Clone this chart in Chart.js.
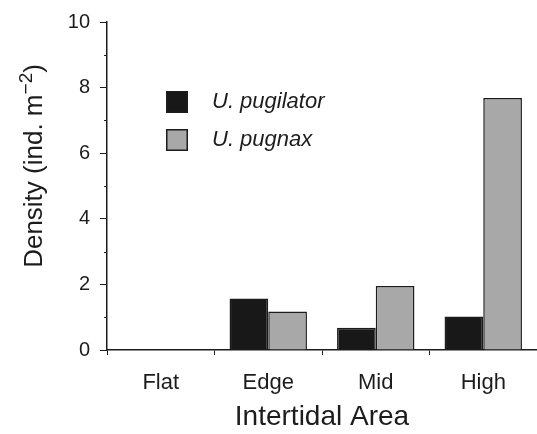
<!DOCTYPE html>
<html>
<head>
<meta charset="utf-8">
<script src="https://cdn.jsdelivr.net/npm/chart.js@4.4.1/dist/chart.umd.min.js"></script>
<style>
  html, body { margin: 0; padding: 0; background: #fff; }
  #wrap { width: 537px; height: 434px; }
</style>
</head>
<body>
<div id="wrap"><canvas id="chart"></canvas></div>
<script>
"use strict";

const categories = ["Flat", "Edge", "Mid", "High"];
const pugilator = [0, 1.57, 0.68, 1.02];
const pugnax = [0, 1.17, 1.95, 7.68];
const yTicks = [0, 2, 4, 6, 8, 10];
const minorTicks = [1, 3, 5, 7, 9];

const INK = "#1c1c1c";
const FONT = "'Liberation Sans', Arial, Helvetica, sans-serif";

// minor ticks on the y axis (odd values), shorter than the labelled ones
const minorTickPlugin = {
  id: "minorTicks",
  afterDraw(chart) {
    const ctx = chart.ctx;
    const y = chart.scales.y;
    ctx.save();
    ctx.strokeStyle = INK;
    ctx.lineWidth = 1;
    minorTicks.forEach((v) => {
      const py = Math.round(y.getPixelForValue(v)) + 0.5;
      ctx.beginPath();
      ctx.moveTo(y.right - 3, py);
      ctx.lineTo(y.right, py);
      ctx.stroke();
    });
    ctx.restore();
  },
};

// y title with a real superscript
const yTitlePlugin = {
  id: "yTitle",
  afterDraw(chart) {
    const ctx = chart.ctx;
    const parts = [
      { t: "Density (ind. m", size: 26, dy: 0 },
      { t: "\u22122", size: 19, dy: -10 },
      { t: ")", size: 26, dy: 0 },
    ];
    ctx.save();
    ctx.fillStyle = INK;
    ctx.textBaseline = "alphabetic";
    let total = 0;
    parts.forEach((p) => {
      ctx.font = `${p.size}px ${FONT}`;
      p.w = ctx.measureText(p.t).width;
      total += p.w;
    });
    ctx.translate(42, 166);
    ctx.rotate(-Math.PI / 2);
    let x = -total / 2;
    parts.forEach((p) => {
      ctx.font = `${p.size}px ${FONT}`;
      ctx.fillText(p.t, x, p.dy);
      x += p.w;
    });
    ctx.restore();
  },
};

// legend inside the plot area
const innerLegendPlugin = {
  id: "innerLegend",
  afterDraw(chart) {
    const ctx = chart.ctx;
    const area = chart.chartArea;
    ctx.save();
    chart.data.datasets.forEach((ds, i) => {
      const bx = area.left + 59;
      const by = area.top + 69 + i * 38;
      ctx.fillStyle = ds.backgroundColor;
      ctx.fillRect(bx, by, 22, 22);
      ctx.strokeStyle = INK;
      ctx.lineWidth = 1.5;
      ctx.strokeRect(bx + 0.75, by + 0.75, 20.5, 20.5);
      ctx.fillStyle = INK;
      ctx.font = `italic 22px ${FONT}`;
      ctx.textBaseline = "middle";
      ctx.fillText(ds.label, bx + 46, by + 11);
    });
    ctx.restore();
  },
};

new Chart(document.getElementById("chart"), {
  type: "bar",
  data: {
    labels: categories,
    datasets: [
      {
        label: "U. pugilator",
        data: pugilator,
        backgroundColor: "#181818",
        borderColor: INK,
        borderWidth: 1.5,
      },
      {
        label: "U. pugnax",
        data: pugnax,
        backgroundColor: "#a8a8a8",
        borderColor: INK,
        borderWidth: 1.5,
      },
    ],
  },
  options: {
    responsive: true,
    maintainAspectRatio: false,
    animation: false,
    layout: { padding: { top: 20, right: 0, bottom: 0, left: 0 } },
    datasets: { bar: { barPercentage: 1.0, categoryPercentage: 0.72 } },
    plugins: { legend: { display: false }, tooltip: { enabled: false } },
    scales: {
      x: {
        grid: { drawOnChartArea: false, tickLength: 5, color: INK, offset: true },
        border: { color: INK, width: 1.5 },
        ticks: { color: INK, font: { family: FONT, size: 22 }, padding: 15 },
        title: {
          display: true,
          text: "Intertidal Area",
          color: INK,
          font: { family: FONT, size: 28 },
          padding: { top: 0, bottom: 0 },
        },
        afterFit: (s) => { s.height = 84; },
      },
      y: {
        min: 0,
        max: 10,
        afterBuildTicks: (s) => { s.ticks = yTicks.map((v) => ({ value: v })); },
        grid: { drawOnChartArea: false, tickLength: 7, color: INK },
        border: { color: INK, width: 1.5 },
        ticks: { color: INK, font: { family: FONT, size: 20 }, padding: 10 },
        afterFit: (s) => { s.width = 107; },
      },
    },
  },
  plugins: [minorTickPlugin, yTitlePlugin, innerLegendPlugin],
});
</script>
</body>
</html>
